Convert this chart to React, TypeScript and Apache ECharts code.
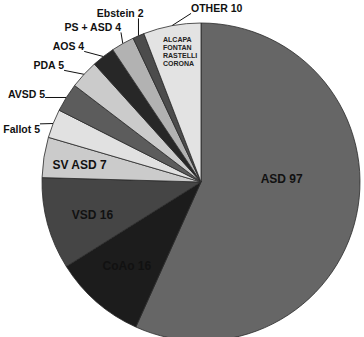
import React, { useEffect, useRef } from "react";
import * as echarts from "echarts";

// Diagnoses, clockwise from 12 o'clock
const categories = ["ASD", "CoAo", "VSD", "SV ASD", "Fallot", "AVSD", "PDA", "AOS", "PS + ASD", "Ebstein", "OTHER"];
const counts = [97, 16, 16, 7, 5, 5, 5, 4, 4, 2, 10];
const shades = ["#666666", "#1c1c1c", "#454545", "#cbcbcb", "#e1e1e1", "#5c5c5c", "#cbcbcb", "#272727", "#b2b2b2", "#4c4c4c", "#e3e3e3"];
const insideLabels = ["ASD", "CoAo", "VSD", "SV ASD"];
const otherList = ["ALCAPA", "FONTAN", "RASTELLI", "CORONA"];

// Nudges applied to the labels after the pie lays them out (px)
const labelNudge: Record<string, [number, number]> = {
  ASD: [0, -20],
  CoAo: [-20, 22],
  VSD: [-29, 11],
  "SV ASD": [-40, -4],
  Fallot: [0, 11],
  AVSD: [-9, 4],
  PDA: [-9, 0],
  AOS: [-3, -5],
  "PS + ASD": [17, -11],
  Ebstein: [17, -12],
  OTHER: [78, -4],
};

const FONT = "Liberation Sans, Arial, sans-serif";

// closest point of a rectangle to p
function nearestOnRect(p: number[], r: { x: number; y: number; width: number; height: number }) {
  const x = Math.min(Math.max(p[0], r.x), r.x + r.width);
  const y = Math.min(Math.max(p[1], r.y), r.y + r.height);
  return [x, y];
}

export default function App() {
  const ref = useRef<HTMLDivElement>(null);

  useEffect(() => {
    if (!ref.current) return;
    const chart = echarts.init(ref.current, undefined, { renderer: "svg" });

    const data = categories.map((name, i) => {
      const inside = insideLabels.includes(name);
      return {
        name,
        value: counts[i],
        itemStyle: { color: shades[i] },
        label: inside
          ? { position: "inside", fontSize: 12 }
          : { position: "outside", fontSize: 10.5 },
        labelLine: { show: !inside },
      };
    });

    chart.setOption({
      animation: false,
      backgroundColor: "#ffffff",
      series: [
        {
          type: "pie",
          center: [201, 182],
          radius: [0, 159],
          startAngle: 90,
          clockwise: true,
          avoidLabelOverlap: true,
          data,
          itemStyle: { borderColor: "#2a2a2a", borderWidth: 0.8 },
          label: {
            formatter: "{b} {c}",
            color: "#111111",
            fontFamily: FONT,
            fontWeight: "bold",
            overflow: "none",
          },
          labelLine: {
            length: 14,
            length2: 0,
            smooth: false,
            lineStyle: { color: "#111111", width: 1 },
          },
          labelLayout: (params: any) => {
            const name = categories[params.dataIndex];
            const n = labelNudge[name] || [0, 0];
            const out: any = { dx: n[0], dy: n[1] };
            const pts = params.labelLinePoints;
            if (pts && !insideLabels.includes(name)) {
              const r = params.labelRect;
              const moved = { x: r.x + n[0], y: r.y + n[1], width: r.width, height: r.height };
              const start = pts[0];
              const end = nearestOnRect(start, moved);
              out.labelLinePoints = [start, end, end];
            }
            return out;
          },
        },
      ],
      graphic: [
        {
          type: "text",
          left: 163,
          top: 35,
          z: 100,
          style: {
            text: otherList.join("\n"),
            fontSize: 7,
            fontWeight: "bold",
            fontFamily: FONT,
            lineHeight: 8,
            fill: "#222222",
          },
        },
      ],
    });

    return () => chart.dispose();
  }, []);

  return (
    <div
      ref={ref}
      style={{ position: "fixed", left: 0, top: 0, width: 364, height: 337 }}
    />
  );
}
